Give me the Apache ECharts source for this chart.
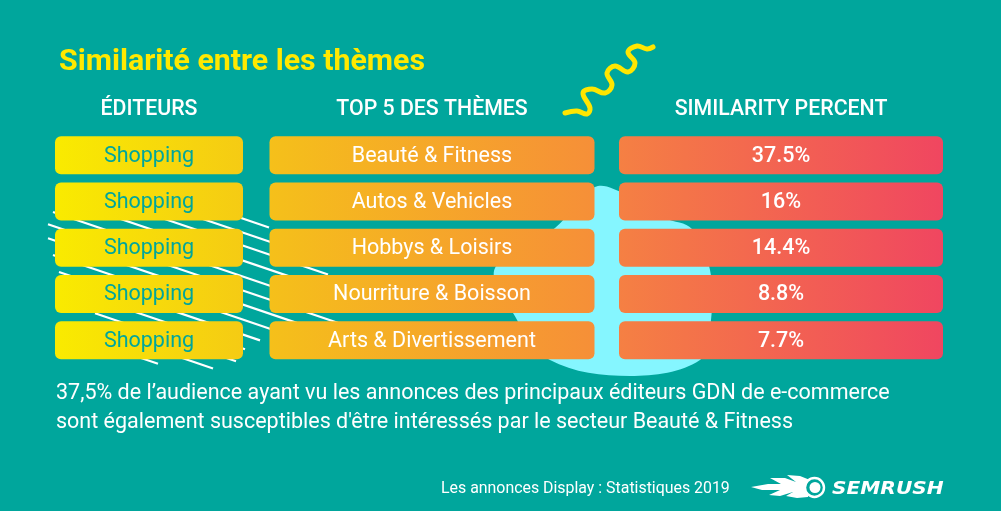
<!DOCTYPE html>
<html><head><meta charset="utf-8">
<style>html,body{margin:0;padding:0;background:#00A69C}#c{width:1001px;height:511px}</style>
<script src="https://cdn.jsdelivr.net/npm/echarts@6/dist/echarts.min.js"></script>
</head><body><div id="c"></div>
<script>
const chartTitle = 'Similarité entre les thèmes';
const noteLine1 = '37,5% de l’audience ayant vu les annonces des principaux éditeurs GDN de e-commerce';
const noteLine2 = "sont également susceptibles d'être intéressés par le secteur Beauté & Fitness";
const footer = 'Les annonces Display : Statistiques 2019';
const headers = ['ÉDITEURS', 'TOP 5 DES THÈMES', 'SIMILARITY PERCENT'];
const publishers = ['Shopping', 'Shopping', 'Shopping', 'Shopping', 'Shopping'];
const themes = ['Beauté & Fitness', 'Autos & Vehicles', 'Hobbys & Loisirs', 'Nourriture & Boisson', 'Arts & Divertissement'];
const similarity = [37.5, 16, 14.4, 8.8, 7.7];
const rows = ['1', '2', '3', '4', '5'];

const BG = '#00A69C', FONT = 'Roboto';
const chart = echarts.init(document.getElementById('c'));

function column(idx, cells, stops, color, weight) {
  return {
    type: 'custom', xAxisIndex: idx, yAxisIndex: idx, z: 5,
    data: cells.map((c, i) => [0, i, c]),
    encode: { x: 0, y: 1 },
    renderItem(params, api) {
      const p = api.coord([0, api.value(1)]);
      const s = api.size([1, 1]);
      const h = 38;
      const t = api.value(2);
      return { type: 'group', children: [
        { type: 'rect', shape: { x: p[0] - s[0] / 2, y: p[1] - h / 2, width: s[0], height: h, r: 6 },
          style: { fill: new echarts.graphic.LinearGradient(0, 0, 1, 0, [{ offset: 0, color: stops[0] }, { offset: 1, color: stops[1] }]) } },
        { type: 'text', style: { text: idx === 2 ? t + '%' : String(t), x: p[0], y: p[1] + 1, align: 'center', verticalAlign: 'middle',
            fill: color, font: weight + ' 21.5px ' + FONT } }
      ] };
    }
  };
}

const grids = [{ left: 55, width: 188 }, { left: 269.5, width: 325 }, { left: 619, width: 324 }]
  .map(g => ({ ...g, top: 132, height: 231.5 }));

const stripes = [[136,170,269],[150,130,300],[163,100,328],[178,70,340],[194,53,345],[208,48,342],[222,48,340],[237,53,300],[252,59,260],[266,75,245],[281,95,236],[296,120,213],[310,100,158]];
const stripeEls = stripes.map(([b, a, e]) => ({
  type: 'line', z: 1, shape: { x1: a, y1: 0.34 * a + b, x2: e, y2: 0.34 * e + b },
  style: { stroke: '#fff', lineWidth: 2.2 }
}));

chart.setOption({
  animation: false,
  backgroundColor: BG,
  title: [
    { text: chartTitle, left: 59, top: 47, padding: 0, textStyle: { color: '#FFE900', fontFamily: FONT, fontWeight: 700, fontSize: 30.3 } },
    { text: noteLine1, left: 56, top: 383, padding: 0, textStyle: { color: '#fff', fontFamily: FONT, fontWeight: 400, fontSize: 21.5 } },
    { text: noteLine2, left: 56, top: 412, padding: 0, textStyle: { color: '#fff', fontFamily: FONT, fontWeight: 400, fontSize: 21.5 } },
    { text: footer, left: 441, top: 481, padding: 0, textStyle: { color: '#fff', fontFamily: FONT, fontWeight: 400, fontSize: 15.9 } }
  ],
  grid: grids,
  xAxis: headers.map((h, i) => ({
    type: 'category', gridIndex: i, position: 'top', data: [h],
    axisLine: { show: false }, axisTick: { show: false }, splitLine: { show: false },
    axisLabel: { color: '#fff', fontFamily: FONT, fontWeight: 500, fontSize: 21.3, margin: 12, interval: 0 }
  })),
  yAxis: headers.map((h, i) => ({
    type: 'category', gridIndex: i, inverse: true, data: rows,
    axisLine: { show: false }, axisTick: { show: false }, axisLabel: { show: false }, splitLine: { show: false }
  })),
  series: [
    column(0, publishers, ['#F9EB00', '#F5CB14'], '#00A69C', 400),
    column(1, themes, ['#F5C01A', '#F68F38'], '#fff', 400),
    column(2, similarity, ['#F58043', '#F04660'], '#fff', 500)
  ],
  graphic: { elements: [
    { type: 'polygon', z: 0, shape: { smooth: 0.35, points: [[595,187],[625,194],[665,218],[692,229],[710,270],[711,320],[700,360],[630,376],[550,360],[513,313],[495,268],[555,228]] },
      style: { fill: '#85F6FF' } },
    ...stripeEls,
    { type: 'polyline', z: 1, shape: { smooth: 0.4, points: [[565,113],[577,111],[587,114],[590,108],[583,93],[592,89],[605,93],[612,85],[607,73],[615,66],[628,72],[635,63],[628,52],[637,46],[647,49],[653,47]] },
      style: { stroke: '#FFE600', lineWidth: 5, lineCap: 'round', lineJoin: 'round', fill: null } },
    { type: 'polygon', z: 1, shape: { points: [[751,487],[768,484],[781,484],[770,478],[785,478],[796,482],[787,475],[800,476],[810,480],[808,497],[797,498],[786,496],[793,492],[780,496],[769,495],[780,490],[762,490]] },
      style: { fill: '#fff' } },
    { type: 'circle', z: 1, shape: { cx: 814.5, cy: 487.5, r: 9.5 }, style: { fill: BG, stroke: '#fff', lineWidth: 2.4 } },
    { type: 'circle', z: 2, shape: { cx: 815, cy: 487.5, r: 5.5 }, style: { fill: '#fff' } },
    { type: 'text', z: 2, x: 832, y: 480, scaleX: 1.12, style: { text: 'SEMRUSH', fill: '#fff', font: 'italic 900 18px "DejaVu Sans"' } }
  ] }
});
</script></body></html>
